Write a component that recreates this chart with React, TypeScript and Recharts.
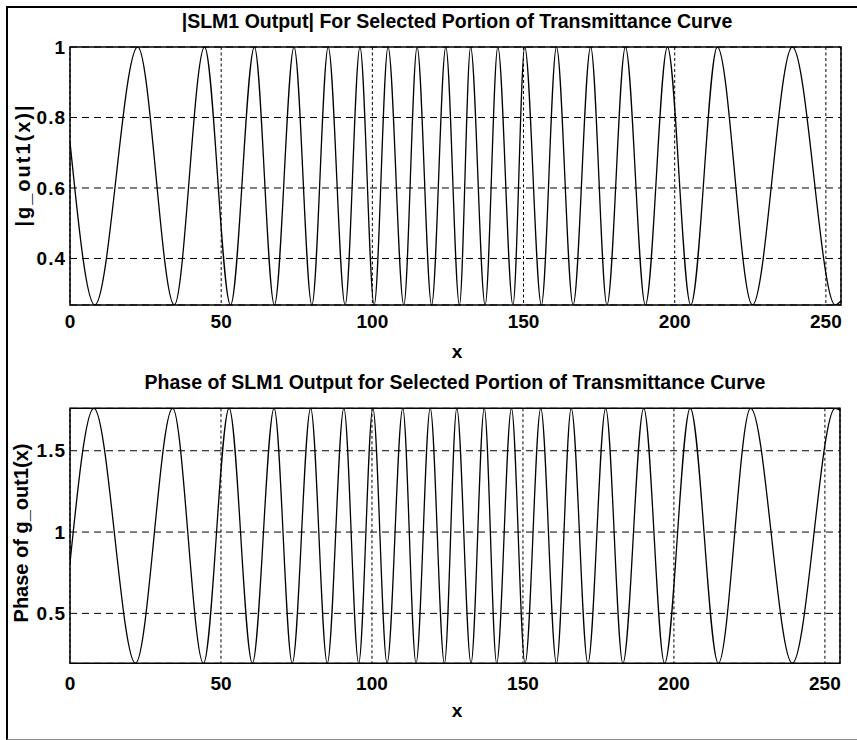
import React from 'react';
import { LineChart, Line, XAxis, YAxis, CartesianGrid, ReferenceArea } from 'recharts';

const FONT = '"Liberation Sans", Arial, Helvetica, sans-serif';

// x tick labels shared by both panels
const xTicks = [0, 50, 100, 150, 200, 250];

// |SLM1 Output| panel
const magTicks = [0.4, 0.6, 0.8, 1];
const magX = [0, 8.2, 22.4, 34.5, 44.5, 53.1, 61.0, 67.6, 74.1, 80.0, 85.4, 91.0, 95.9, 100.6, 105.2, 110.4, 114.8, 119.6, 124.3, 128.8, 132.5, 137.3, 141.5, 146.5, 150.4, 155.9, 160.9, 166.4, 172.2, 177.6, 183.7, 190.3, 197.6, 205.3, 214.1, 225.7, 238.9, 253.1, 255];
const magY = [0.73, 0.268, 1, 0.268, 1, 0.268, 1, 0.268, 1, 0.268, 1, 0.268, 1, 0.268, 1, 0.268, 1, 0.268, 1, 0.268, 1, 0.268, 1, 0.268, 1, 0.268, 1, 0.268, 1, 0.268, 1, 0.268, 1, 0.268, 1, 0.268, 1, 0.268, 0.28];

// Phase panel
const phaseTicks = [0.5, 1, 1.5];
const phaseX = [0, 7.9, 21.7, 34.0, 44.2, 52.7, 60.4, 67.6, 73.6, 79.7, 85.2, 90.7, 95.6, 100.3, 105.0, 110.2, 114.6, 119.3, 124.0, 128.1, 132.8, 137.2, 141.3, 146.2, 150.7, 155.9, 161.1, 166.0, 171.5, 177.4, 183.1, 190.0, 196.9, 205.4, 214.7, 225.4, 239.2, 253.4, 255];
const phaseY = [0.81, 1.761, 0.193, 1.761, 0.193, 1.761, 0.193, 1.761, 0.193, 1.761, 0.193, 1.761, 0.193, 1.761, 0.193, 1.761, 0.193, 1.761, 0.193, 1.761, 0.193, 1.761, 0.193, 1.761, 0.193, 1.761, 0.193, 1.761, 0.193, 1.761, 0.193, 1.761, 0.193, 1.761, 0.193, 1.761, 0.193, 1.761, 1.75];

const magDomain: [number, number] = [0.268, 1];
const phaseDomain: [number, number] = [0.193, 1.761];
const xDomain: [number, number] = [0, 255];

const magData = magX.map((x, i) => ({ x, y: magY[i] }));
const phaseData = phaseX.map((x, i) => ({ x, y: phaseY[i] }));

const xTickStyle = { fill: '#000', fontSize: 19, fontWeight: 'bold' as const, fontFamily: FONT };
const yTickStyle = { fill: '#000', fontSize: 19, fontWeight: 'bold' as const, fontFamily: FONT, letterSpacing: 1 };

function Panel(props: {
  data: { x: number; y: number }[];
  yDomain: [number, number];
  yTicks: number[];
  height: number;
  margin: { top: number; right: number; bottom: number; left: number };
  xTickMargin: number;
}) {
  const { data, yDomain, yTicks, height, margin, xTickMargin } = props;
  return (
    <LineChart width={857} height={height} data={data} margin={margin}>
      <CartesianGrid horizontal={true} vertical={false} stroke="#000" strokeWidth={1} strokeDasharray="7 5" />
      <CartesianGrid horizontal={false} vertical={true} stroke="#000" strokeWidth={1} strokeDasharray="3 2.5" />
      <XAxis
        dataKey="x"
        type="number"
        domain={xDomain}
        ticks={xTicks}
        allowDataOverflow
        axisLine={false}
        tickLine={false}
        tickSize={0}
        tickMargin={xTickMargin}
        height={30}
        tick={xTickStyle}
      />
      <YAxis
        type="number"
        domain={yDomain}
        ticks={yTicks}
        allowDataOverflow
        axisLine={false}
        tickLine={false}
        tickSize={0}
        tickMargin={4}
        width={62}
        tick={yTickStyle}
      />
      <ReferenceArea x1={xDomain[0]} x2={xDomain[1]} y1={yDomain[0]} y2={yDomain[1]} fill="none" fillOpacity={0} stroke="#000" strokeWidth={1.5} />
      <Line
        type="monotone"
        dataKey="y"
        stroke="#000"
        strokeWidth={1.3}
        dot={false}
        activeDot={false}
        isAnimationActive={false}
      />
    </LineChart>
  );
}

const textBase: React.CSSProperties = {
  position: 'absolute',
  fontFamily: FONT,
  fontWeight: 'bold',
  color: '#000',
  whiteSpace: 'nowrap',
  lineHeight: 1,
};

export default function App() {
  return (
    <div style={{ position: 'absolute', left: 0, top: 0, width: 857, height: 740, background: '#fff', overflow: 'hidden' }}>
      <div style={{ position: 'absolute', left: 6, top: 6, width: 900, height: 731, borderTop: '2px solid #000', borderLeft: '2px solid #000', borderBottom: '1px solid #888' }} />
      <div style={{ position: 'absolute', left: 0, top: 0 }}>
        <Panel data={magData} yDomain={magDomain} yTicks={magTicks} height={360} margin={{ top: 47, right: 16, bottom: 25, left: 8 }} xTickMargin={10} />
      </div>
      <div style={{ position: 'absolute', left: 0, top: 365 }}>
        <Panel data={phaseData} yDomain={phaseDomain} yTicks={phaseTicks} height={375} margin={{ top: 43.3, right: 17, bottom: 46.7, left: 8 }} xTickMargin={13} />
      </div>
      <div style={{ ...textBase, left: 457, top: 22, fontSize: 19.5, transform: 'translate(-50%, -50%)' }}>|SLM1 Output| For Selected Portion of Transmittance Curve</div>
      <div style={{ ...textBase, left: 455, top: 383, fontSize: 19.5, transform: 'translate(-50%, -50%)' }}>Phase of SLM1 Output for Selected Portion of Transmittance Curve</div>
      <div style={{ ...textBase, left: 457, top: 351, fontSize: 19, transform: 'translate(-50%, -50%)' }}>x</div>
      <div style={{ ...textBase, left: 457, top: 710, fontSize: 19, transform: 'translate(-50%, -50%)' }}>x</div>
      <div style={{ ...textBase, left: 23, top: 165, fontSize: 20, letterSpacing: 2, transform: 'translate(-50%, -50%) rotate(-90deg)' }}>|g_out1(x)|</div>
      <div style={{ ...textBase, left: 21, top: 533, fontSize: 20, transform: 'translate(-50%, -50%) rotate(-90deg)' }}>Phase of g_out1(x)</div>
    </div>
  );
}
